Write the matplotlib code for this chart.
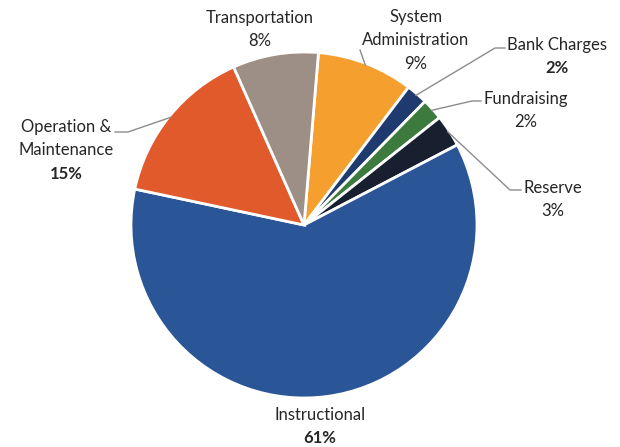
import numpy as np
import matplotlib.pyplot as plt

# Budget share by category, clockwise from the top
categories = ['System\nAdministration', 'Bank Charges', 'Fundraising', 'Reserve',
              'Instructional', 'Operation &\nMaintenance', 'Transportation']
shares = [9, 2, 2, 3, 61, 15, 8]
pct_labels = ['9%', '2%', '2%', '3%', '61%', '15%', '8%']
bold_pct = [False, True, False, False, True, True, False]
colors = ['#F59F2E', '#1F3A6E', '#3C7A3E', '#18202F', '#2A5597', '#E15A2C', '#9D8E86']

plt.rcParams['font.family'] = ['Lato', 'DejaVu Sans']

W, H = 620, 447
R = 173.0
cx, cy = 304, 225


def to_data(px, py):
    return (px - cx) / R, (cy - py) / R


fig = plt.figure(figsize=(W / 100, H / 100), dpi=100)
ax = fig.add_axes([0, 0, 1, 1])
wedges, _ = ax.pie(shares, colors=colors, startangle=85.2, counterclock=False,
                   radius=1.0, wedgeprops=dict(edgecolor='white', linewidth=2))
ax.set_xlim(-cx / R, (W - cx) / R)
ax.set_ylim(-(H - cy) / R, cy / R)
ax.set_aspect('auto')
ax.axis('off')

# label center (x, first line y) and leader elbow, in pixels from top-left
label_pos = {
    'System\nAdministration': ((416, 17), (360, 50)),
    'Bank Charges': ((557, 45), (495, 48)),
    'Fundraising': ((526, 99), (472, 101)),
    'Reserve': ((553, 188), (510, 190)),
    'Instructional': ((320, 415), None),
    'Operation &\nMaintenance': ((66, 127), (128, 132)),
    'Transportation': ((260, 18), None),
}
leader_end = {'Bank Charges': 505, 'Fundraising': 481, 'Reserve': 521,
              'Operation &\nMaintenance': 115}
line_step = 23.3

text_color = '#262626'
for w, cat, pct, bold in zip(wedges, categories, pct_labels, bold_pct):
    (lx, ly), elbow = label_pos[cat]
    lines = cat.split('\n')
    for i, line in enumerate(lines):
        x, y = to_data(lx, ly + line_step * i)
        ax.text(x, y, line, ha='center', va='center', fontsize=12, color=text_color)
    x, y = to_data(lx, ly + line_step * len(lines))
    ax.text(x, y, pct, ha='center', va='center', fontsize=12, color=text_color,
            fontweight='bold' if bold else 'normal')

    if elbow is not None:
        mid = np.deg2rad((w.theta1 + w.theta2) / 2)
        sx, sy = 0.99 * np.cos(mid), 0.99 * np.sin(mid)
        ex, ey = to_data(*elbow)
        xs, ys = [sx, ex], [sy, ey]
        if cat in leader_end:
            fx, fy = to_data(leader_end[cat], elbow[1])
            xs.append(fx)
            ys.append(fy)
        ax.plot(xs, ys, color='#8c8c8c', linewidth=1.0)

fig.savefig('out.png', dpi=100, facecolor='white')
